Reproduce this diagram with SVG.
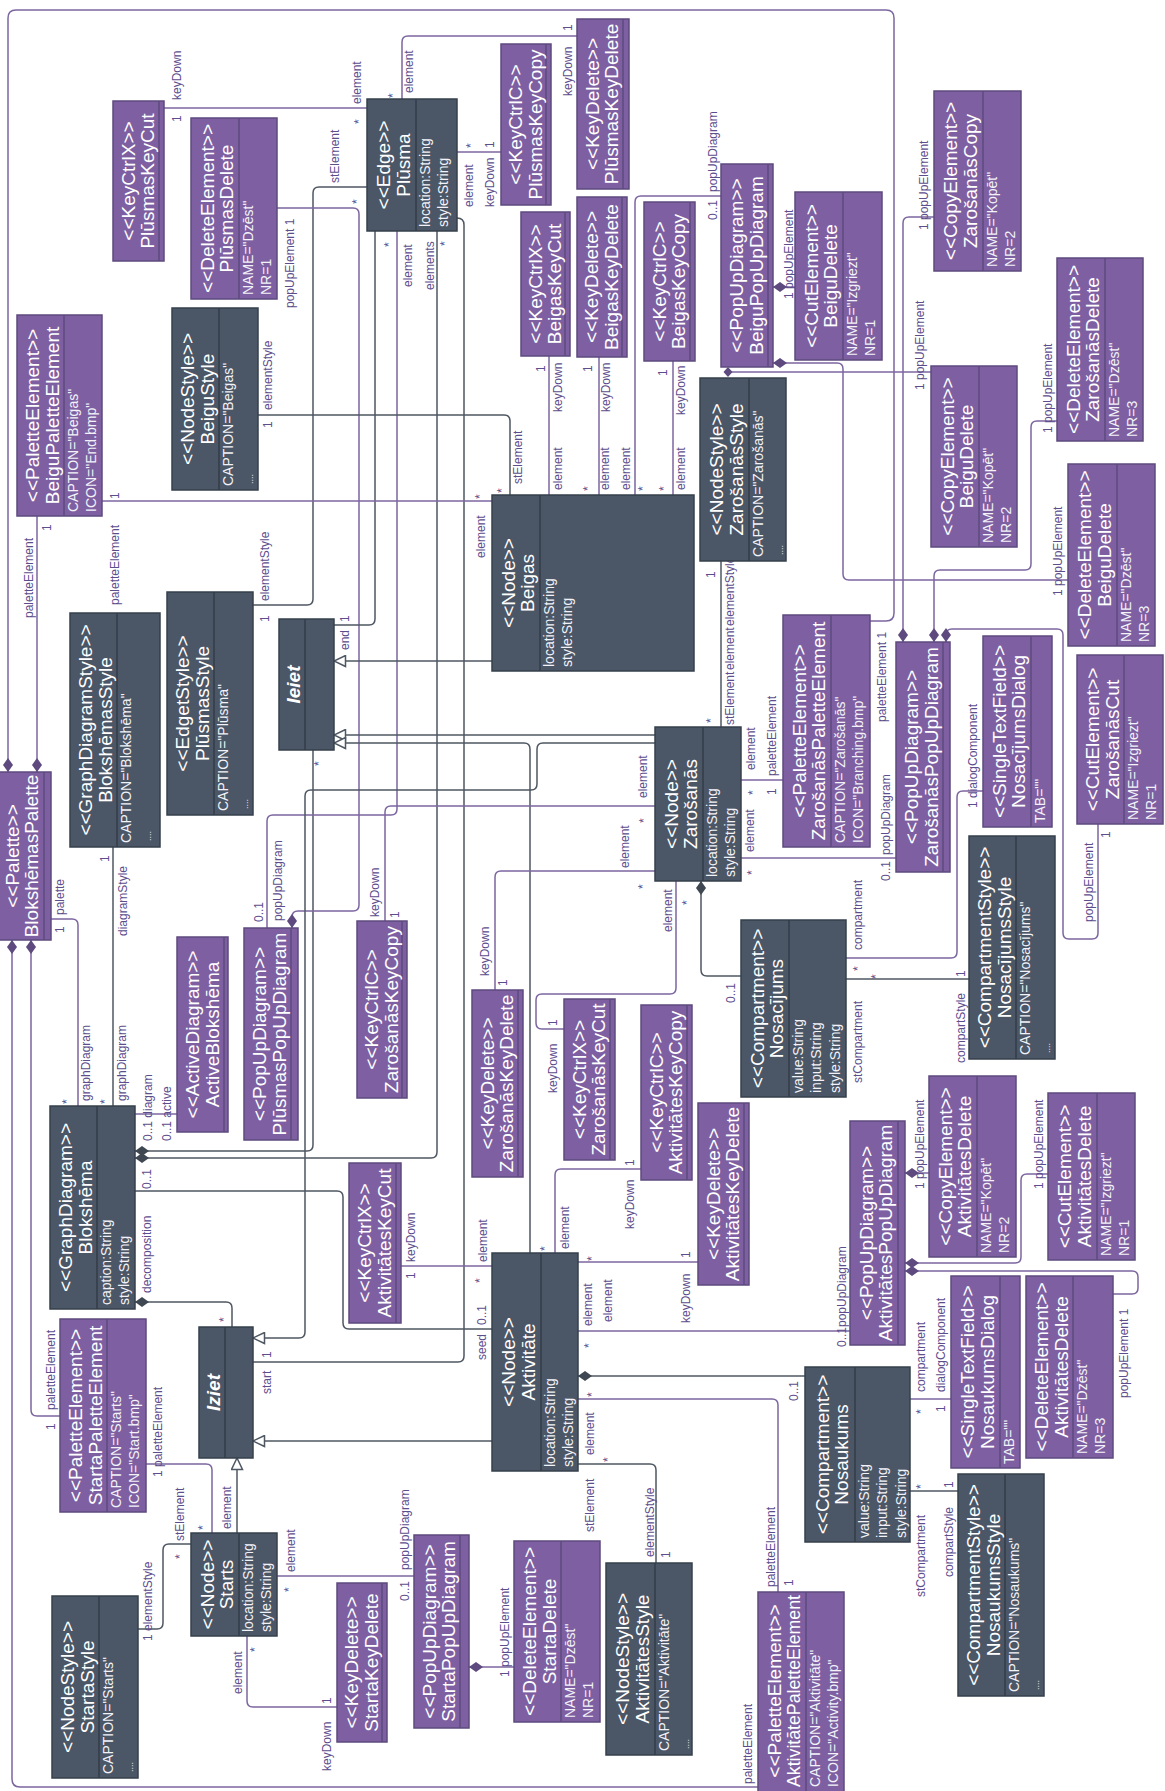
<svg xmlns="http://www.w3.org/2000/svg" width="1165" height="1791" viewBox="0 0 1165 1791">
<style>
text{font-family:"Liberation Sans",Arial,sans-serif}
.np>rect{fill:#7e60a2;stroke:#5e4a7e;stroke-width:1.5}
.nd>rect{fill:#4b5666;stroke:#36404c;stroke-width:1.5}
.np>path{fill:none;stroke:#5e4a7e;stroke-width:1.5}
.nd>path{fill:none;stroke:#333d49;stroke-width:1.5}
.t{font-size:19px;fill:#fff;text-anchor:middle}
.it{font-style:italic;font-weight:bold}
.a{font-size:14px;fill:#f2f2f8}
.dots{font-size:9px;fill:#f2f2f8}
.lb{font-size:12px;fill:#5c4d8d}
.ld{fill:none;stroke:#4e5762;stroke-width:1.5}
.lp{fill:none;stroke:#7c66a0;stroke-width:1.5}
</style>
<defs>
<marker id="dd" viewBox="0 0 14 10" refX="0" refY="5" markerWidth="14" markerHeight="10" orient="auto" markerUnits="userSpaceOnUse"><path d="M0 5L7 0L14 5L7 10Z" fill="#3f4852"/></marker>
<marker id="dp" viewBox="0 0 14 10" refX="0" refY="5" markerWidth="14" markerHeight="10" orient="auto" markerUnits="userSpaceOnUse"><path d="M0 5L7 0L14 5L7 10Z" fill="#5e4a7e"/></marker>
<marker id="tri" viewBox="0 0 13 13" refX="12.5" refY="6.5" markerWidth="13" markerHeight="13" orient="auto" markerUnits="userSpaceOnUse"><path d="M1 1L12.5 6.5L1 12Z" fill="#fff" stroke="#4e5762" stroke-width="1.5"/></marker>
</defs>
<rect width="1165" height="1791" fill="#fff"/>

<g id="connectors">
<path class="lp" marker-start="url(#dp)" d="M8 772V18Q8 10 16 10H886Q894 10 894 18V613Q894 621 886 621H870"/>
<path class="lp" marker-start="url(#dp)" d="M37 772V516"/>
<path class="lp" marker-start="url(#dp)" d="M31 940V1410Q31 1416 37 1416H60"/>
<path class="lp" marker-start="url(#dp)" d="M12 940V1779Q12 1787 20 1787H758"/>
<path class="lp" d="M51 919H72Q78 919 78 925V1106"/>
<path class="ld" d="M113 847V1106"/>
<path class="lp" d="M135 1114H177"/>
<path class="ld" marker-start="url(#dd)" d="M135 1151H307Q313 1151 313 1145V750"/>
<path class="ld" marker-start="url(#dd)" d="M135 1158H431Q437 1158 437 1152V231"/>
<path class="ld" d="M135 1191H337Q343 1191 343 1197V1323Q343 1329 349 1329H492"/>
<path class="ld" marker-start="url(#dd)" d="M135 1302H226Q232 1302 232 1308V1327"/>
<path class="lp" d="M164 108H367"/>
<path class="lp" d="M577 36H408Q402 36 402 42V99"/>
<path class="lp" d="M457 152H501"/>
<path class="ld" d="M367 187H319Q313 187 313 193V599Q313 605 307 605H253"/>
<path class="lp" d="M397 231V809Q397 815 391 815H273Q267 815 267 821V928"/>
<path class="lp" marker-start="url(#dp)" d="M292 928V917Q292 911 298 911H353Q359 911 359 905V214Q359 208 353 208H277"/>
<path class="ld" d="M375 231V619Q375 625 369 625H334"/>
<path class="ld" d="M457 218Q464 218 464 225V1356Q464 1362 458 1362H253"/>
<path class="lp" d="M102 501H492"/>
<path class="ld" d="M258 415H504Q510 415 510 421V495"/>
<path class="lp" d="M549 356V495"/>
<path class="lp" d="M599 357V495"/>
<path class="lp" d="M721 196H641Q635 196 635 202V495"/>
<path class="lp" d="M673 361V495"/>
<path class="ld" marker-end="url(#tri)" d="M492 661H334"/>
<path class="lp" marker-start="url(#dp)" d="M773 287H795"/>
<path class="lp" marker-start="url(#dp)" d="M773 363H837Q843 363 843 369V574Q843 580 849 580H1068"/>
<path class="lp" d="M728 372H931"/>
<path d="M728 367L732.5 372L728 377L723.5 372Z" fill="#5e4a7e"/>
<path class="lp" marker-start="url(#dp)" d="M903 642V223Q903 217 909 217H934"/>
<path class="lp" marker-start="url(#dp)" d="M934 642V576Q934 570 940 570H1025Q1031 570 1031 564V427Q1031 421 1037 421H1057"/>
<path class="lp" marker-start="url(#dp)" d="M946 642V635Q946 629 952 629H1057Q1063 629 1063 635V933Q1063 939 1069 939H1092Q1098 939 1098 933V824"/>
<path class="ld" d="M721 561V727"/>
<path class="ld" marker-end="url(#tri)" d="M655 735H334"/>
<path class="ld" marker-end="url(#tri)" d="M530 1253V749Q530 743 524 743H334"/>
<path class="ld" marker-end="url(#tri)" d="M655 743H543Q537 743 537 749V784Q537 790 531 790H311Q305 790 305 796V1332Q305 1338 299 1338H253"/>
<path class="lp" d="M741 780H783"/>
<path class="lp" d="M741 858H896"/>
<path class="lp" d="M385 921V812Q385 806 391 806H655"/>
<path class="lp" d="M495 990V877Q495 871 501 871H655"/>
<path class="lp" d="M564 1029H542Q536 1029 536 1023V1000Q536 994 542 994H670Q676 994 676 988V881"/>
<path class="ld" marker-start="url(#dd)" d="M701 881V970Q701 976 707 976H741"/>
<path class="lp" d="M983 791H963Q957 791 957 797V952Q957 958 951 958H846"/>
<path class="ld" d="M846 979H969"/>
<path class="lp" d="M401 1266H492"/>
<path class="lp" d="M641 1169H561Q555 1169 555 1175V1253"/>
<path class="lp" d="M578 1262H698"/>
<path class="lp" d="M578 1331H850"/>
<path class="ld" marker-start="url(#dd)" d="M578 1376H805"/>
<path class="lp" d="M578 1399H772Q778 1399 778 1405V1592"/>
<path class="ld" d="M578 1464H650Q656 1464 656 1470V1563"/>
<path class="ld" marker-end="url(#tri)" d="M492 1441H253"/>
<path class="lp" marker-start="url(#dp)" d="M905 1173H929"/>
<path class="lp" marker-start="url(#dp)" d="M905 1263H1015Q1021 1263 1021 1257V1180Q1021 1174 1027 1174H1048"/>
<path class="lp" marker-start="url(#dp)" d="M905 1271H1132Q1138 1271 1138 1277V1288Q1138 1294 1132 1294H1113"/>
<path class="lp" d="M951 1399H910"/>
<path class="ld" d="M910 1491H958"/>
<path class="ld" marker-end="url(#tri)" d="M237 1533V1458"/>
<path class="lp" d="M146 1464H206Q212 1464 212 1470V1533"/>
<path class="ld" d="M138 1629H157Q163 1629 163 1623V1550Q163 1544 169 1544H191"/>
<path class="lp" d="M277 1576H414"/>
<path class="lp" d="M247 1636V1701Q247 1707 253 1707H337"/>
<path class="lp" marker-start="url(#dp)" d="M469 1667H514"/>
</g>

<g id="connector-labels">
<text class="lb" transform="translate(181 100) rotate(-90)">keyDown</text>
<text class="lb" transform="translate(181 122) rotate(-90)">1</text>
<text class="lb" transform="translate(361 104) rotate(-90)">element</text>
<text class="lb" transform="translate(363 124) rotate(-90)">*</text>
<text class="lb" transform="translate(572 96) rotate(-90)">keyDown</text>
<text class="lb" transform="translate(572 31) rotate(-90)">1</text>
<text class="lb" transform="translate(413 93) rotate(-90)">element</text>
<text class="lb" transform="translate(397 98) rotate(-90)">*</text>
<text class="lb" transform="translate(475 148) rotate(-90)">*</text>
<text class="lb" transform="translate(473 207) rotate(-90)">element</text>
<text class="lb" transform="translate(494 148) rotate(-90)">1</text>
<text class="lb" transform="translate(494 207) rotate(-90)">keyDown</text>
<text class="lb" transform="translate(339 183) rotate(-90)">stElement</text>
<text class="lb" transform="translate(361 204) rotate(-90)">*</text>
<text class="lb" transform="translate(269 601) rotate(-90)">elementStyle</text>
<text class="lb" transform="translate(269 622) rotate(-90)">1</text>
<text class="lb" transform="translate(412 287) rotate(-90)">element</text>
<text class="lb" transform="translate(282 921) rotate(-90)">popUpDiagram</text>
<text class="lb" transform="translate(263 922) rotate(-90)">0..1</text>
<text class="lb" transform="translate(294 308) rotate(-90)">popUpElement 1</text>
<text class="lb" transform="translate(393 247) rotate(-90)">*</text>
<text class="lb" transform="translate(349 622) rotate(-90)">1</text>
<text class="lb" transform="translate(349 650) rotate(-90)">end</text>
<text class="lb" transform="translate(271 1358) rotate(-90)">1</text>
<text class="lb" transform="translate(271 1394) rotate(-90)">start</text>
<text class="lb" transform="translate(119 605) rotate(-90)">paletteElement</text>
<text class="lb" transform="translate(119 499) rotate(-90)">1</text>
<text class="lb" transform="translate(485 558) rotate(-90)">element</text>
<text class="lb" transform="translate(484 499) rotate(-90)">*</text>
<text class="lb" transform="translate(272 410) rotate(-90)">elementStyle</text>
<text class="lb" transform="translate(272 428) rotate(-90)">1</text>
<text class="lb" transform="translate(506 493) rotate(-90)">*</text>
<text class="lb" transform="translate(522 484) rotate(-90)">stElement</text>
<text class="lb" transform="translate(545 372) rotate(-90)">1</text>
<text class="lb" transform="translate(562 412) rotate(-90)">keyDown</text>
<text class="lb" transform="translate(562 490) rotate(-90)">element</text>
<text class="lb" transform="translate(592 372) rotate(-90)">1</text>
<text class="lb" transform="translate(610 412) rotate(-90)">keyDown</text>
<text class="lb" transform="translate(592 491) rotate(-90)">*</text>
<text class="lb" transform="translate(609 490) rotate(-90)">element</text>
<text class="lb" transform="translate(717 192) rotate(-90)">popUpDiagram</text>
<text class="lb" transform="translate(717 220) rotate(-90)">0..1</text>
<text class="lb" transform="translate(630 490) rotate(-90)">element</text>
<text class="lb" transform="translate(647 491) rotate(-90)">*</text>
<text class="lb" transform="translate(667 376) rotate(-90)">1</text>
<text class="lb" transform="translate(685 415) rotate(-90)">keyDown</text>
<text class="lb" transform="translate(668 491) rotate(-90)">*</text>
<text class="lb" transform="translate(685 490) rotate(-90)">element</text>
<text class="lb" transform="translate(793 299) rotate(-90)">1 popUpElement</text>
<text class="lb" transform="translate(1062 596) rotate(-90)">1 popUpElement</text>
<text class="lb" transform="translate(924 390) rotate(-90)">1 popUpElement</text>
<text class="lb" transform="translate(928 230) rotate(-90)">1 popUpElement</text>
<text class="lb" transform="translate(1052 433) rotate(-90)">1 popUpElement</text>
<text class="lb" transform="translate(1093 922) rotate(-90)">popUpElement</text>
<text class="lb" transform="translate(1110 838) rotate(-90)">1</text>
<text class="lb" transform="translate(715 578) rotate(-90)">1</text>
<text class="lb" transform="translate(734 725) rotate(-90)">stElement</text>
<text class="lb" transform="translate(734 670) rotate(-90)">element</text>
<text class="lb" transform="translate(734 626) rotate(-90)">elementStyle</text>
<text class="lb" transform="translate(715 723) rotate(-90)">*</text>
<text class="lb" transform="translate(755 770) rotate(-90)">element</text>
<text class="lb" transform="translate(757 795) rotate(-90)">*</text>
<text class="lb" transform="translate(776 776) rotate(-90)">paletteElement</text>
<text class="lb" transform="translate(776 795) rotate(-90)">1</text>
<text class="lb" transform="translate(886 722) rotate(-90)">paletteElement 1</text>
<text class="lb" transform="translate(754 852) rotate(-90)">element</text>
<text class="lb" transform="translate(756 875) rotate(-90)">*</text>
<text class="lb" transform="translate(890 855) rotate(-90)">popUpDiagram</text>
<text class="lb" transform="translate(890 881) rotate(-90)">0..1</text>
<text class="lb" transform="translate(379 917) rotate(-90)">keyDown</text>
<text class="lb" transform="translate(399 918) rotate(-90)">1</text>
<text class="lb" transform="translate(647 798) rotate(-90)">element</text>
<text class="lb" transform="translate(648 823) rotate(-90)">*</text>
<text class="lb" transform="translate(489 976) rotate(-90)">keyDown</text>
<text class="lb" transform="translate(507 986) rotate(-90)">1</text>
<text class="lb" transform="translate(629 868) rotate(-90)">element</text>
<text class="lb" transform="translate(647 889) rotate(-90)">*</text>
<text class="lb" transform="translate(557 1093) rotate(-90)">keyDown</text>
<text class="lb" transform="translate(557 1026) rotate(-90)">1</text>
<text class="lb" transform="translate(672 932) rotate(-90)">element</text>
<text class="lb" transform="translate(691 905) rotate(-90)">*</text>
<text class="lb" transform="translate(735 1003) rotate(-90)">0..1</text>
<text class="lb" transform="translate(977 808) rotate(-90)">1 dialogComponent</text>
<text class="lb" transform="translate(862 950) rotate(-90)">compartment</text>
<text class="lb" transform="translate(862 971) rotate(-90)">*</text>
<text class="lb" transform="translate(880 979) rotate(-90)">*</text>
<text class="lb" transform="translate(862 1083) rotate(-90)">stCompartment</text>
<text class="lb" transform="translate(965 977) rotate(-90)">1</text>
<text class="lb" transform="translate(965 1063) rotate(-90)">compartStyle</text>
<text class="lb" transform="translate(415 1279) rotate(-90)">1</text>
<text class="lb" transform="translate(415 1262) rotate(-90)">keyDown</text>
<text class="lb" transform="translate(487 1262) rotate(-90)">element</text>
<text class="lb" transform="translate(484 1283) rotate(-90)">*</text>
<text class="lb" transform="translate(634 1166) rotate(-90)">1</text>
<text class="lb" transform="translate(634 1229) rotate(-90)">keyDown</text>
<text class="lb" transform="translate(569 1249) rotate(-90)">element</text>
<text class="lb" transform="translate(549 1251) rotate(-90)">*</text>
<text class="lb" transform="translate(596 1261) rotate(-90)">*</text>
<text class="lb" transform="translate(690 1258) rotate(-90)">1</text>
<text class="lb" transform="translate(690 1323) rotate(-90)">keyDown</text>
<text class="lb" transform="translate(592 1326) rotate(-90)">element</text>
<text class="lb" transform="translate(612 1322) rotate(-90)">element</text>
<text class="lb" transform="translate(593 1348) rotate(-90)">*</text>
<text class="lb" transform="translate(846 1347) rotate(-90)">0..1</text>
<text class="lb" transform="translate(846 1327) rotate(-90)">popUpDiagram</text>
<text class="lb" transform="translate(798 1401) rotate(-90)">0..1</text>
<text class="lb" transform="translate(596 1397) rotate(-90)">*</text>
<text class="lb" transform="translate(594 1455) rotate(-90)">element</text>
<text class="lb" transform="translate(793 1586) rotate(-90)">1</text>
<text class="lb" transform="translate(775 1587) rotate(-90)">paletteElement</text>
<text class="lb" transform="translate(612 1462) rotate(-90)">*</text>
<text class="lb" transform="translate(594 1532) rotate(-90)">stElement</text>
<text class="lb" transform="translate(654 1557) rotate(-90)">elementStyle</text>
<text class="lb" transform="translate(670 1558) rotate(-90)">1</text>
<text class="lb" transform="translate(924 1189) rotate(-90)">1 popUpElement</text>
<text class="lb" transform="translate(1043 1189) rotate(-90)">1 popUpElement</text>
<text class="lb" transform="translate(1128 1398) rotate(-90)">popUpElement 1</text>
<text class="lb" transform="translate(925 1392) rotate(-90)">compartment</text>
<text class="lb" transform="translate(925 1414) rotate(-90)">*</text>
<text class="lb" transform="translate(945 1392) rotate(-90)">dialogComponent</text>
<text class="lb" transform="translate(945 1412) rotate(-90)">1</text>
<text class="lb" transform="translate(925 1489) rotate(-90)">*</text>
<text class="lb" transform="translate(925 1597) rotate(-90)">stCompartment</text>
<text class="lb" transform="translate(953 1488) rotate(-90)">1</text>
<text class="lb" transform="translate(953 1577) rotate(-90)">compartStyle</text>
<text class="lb" transform="translate(162 1477) rotate(-90)">1 paletteElement</text>
<text class="lb" transform="translate(231 1529) rotate(-90)">element</text>
<text class="lb" transform="translate(207 1530) rotate(-90)">*</text>
<text class="lb" transform="translate(152 1641) rotate(-90)">1 elementStyle</text>
<text class="lb" transform="translate(184 1541) rotate(-90)">stElement</text>
<text class="lb" transform="translate(184 1559) rotate(-90)">*</text>
<text class="lb" transform="translate(295 1572) rotate(-90)">element</text>
<text class="lb" transform="translate(293 1592) rotate(-90)">*</text>
<text class="lb" transform="translate(409 1570) rotate(-90)">popUpDiagram</text>
<text class="lb" transform="translate(409 1601) rotate(-90)">0..1</text>
<text class="lb" transform="translate(242 1694) rotate(-90)">element</text>
<text class="lb" transform="translate(259 1652) rotate(-90)">*</text>
<text class="lb" transform="translate(331 1704) rotate(-90)">1</text>
<text class="lb" transform="translate(331 1771) rotate(-90)">keyDown</text>
<text class="lb" transform="translate(509 1677) rotate(-90)">1 popUpElement</text>
<text class="lb" transform="translate(752 1784) rotate(-90)">paletteElement</text>
<text class="lb" transform="translate(55 1410) rotate(-90)">paletteElement</text>
<text class="lb" transform="translate(55 1430) rotate(-90)">1</text>
<text class="lb" transform="translate(33 618) rotate(-90)">paletteElement</text>
<text class="lb" transform="translate(51 531) rotate(-90)">1</text>
<text class="lb" transform="translate(64 933) rotate(-90)">1</text>
<text class="lb" transform="translate(64 915) rotate(-90)">palette</text>
<text class="lb" transform="translate(90 1101) rotate(-90)">graphDiagram</text>
<text class="lb" transform="translate(71 1104) rotate(-90)">*</text>
<text class="lb" transform="translate(109 862) rotate(-90)">1</text>
<text class="lb" transform="translate(127 936) rotate(-90)">diagramStyle</text>
<text class="lb" transform="translate(126 1101) rotate(-90)">graphDiagram</text>
<text class="lb" transform="translate(109 1104) rotate(-90)">*</text>
<text class="lb" transform="translate(152 1141) rotate(-90)">0..1 diagram</text>
<text class="lb" transform="translate(171 1141) rotate(-90)">0..1 active</text>
<text class="lb" transform="translate(323 766) rotate(-90)">*</text>
<text class="lb" transform="translate(434 290) rotate(-90)">elements</text>
<text class="lb" transform="translate(449 246) rotate(-90)">*</text>
<text class="lb" transform="translate(151 1189) rotate(-90)">0..1</text>
<text class="lb" transform="translate(151 1293) rotate(-90)">decomposition</text>
<text class="lb" transform="translate(486 1325) rotate(-90)">0..1</text>
<text class="lb" transform="translate(486 1360) rotate(-90)">seed</text>
<text class="lb" transform="translate(228 1322) rotate(-90)">*</text>
</g>

<g id="plusmas-key-cut" class="np"><rect x="113" y="101" width="51" height="160"/><path d="M159 101V261"/>
<text class="t" transform="translate(134.5 181) rotate(-90)">&lt;&lt;KeyCtrlX&gt;&gt;</text><text class="t" transform="translate(154 181) rotate(-90)">PlūsmasKeyCut</text></g>

<g id="plusmas-delete" class="np"><rect x="191" y="118" width="86" height="181"/><path d="M239 118V299"/>
<text class="t" transform="translate(213.5 208.5) rotate(-90)">&lt;&lt;DeleteElement&gt;&gt;</text><text class="t" transform="translate(233 208.5) rotate(-90)">PlūsmasDelete</text>
<text class="a" transform="translate(252.5 295) rotate(-90)">NAME="Dzēst"</text><text class="a" transform="translate(271 295) rotate(-90)">NR=1</text></g>

<g id="beigu-style" class="nd"><rect x="172" y="308" width="86" height="182"/><path d="M219 308V490"/>
<text class="t" transform="translate(194 399) rotate(-90)">&lt;&lt;NodeStyle&gt;&gt;</text><text class="t" transform="translate(213.5 399) rotate(-90)">BeiguStyle</text>
<text class="a" transform="translate(232.5 486) rotate(-90)">CAPTION="Beigas"</text><text class="dots" transform="translate(253 484) rotate(-90)">....</text></g>

<g id="beigu-palette-element" class="np"><rect x="17" y="315" width="85" height="201"/><path d="M64 315V516"/>
<text class="t" transform="translate(39 415.5) rotate(-90)">&lt;&lt;PaletteElement&gt;&gt;</text><text class="t" transform="translate(58.5 415.5) rotate(-90)">BeiguPaletteElement</text>
<text class="a" transform="translate(77.5 512) rotate(-90)">CAPTION="Beigas"</text><text class="a" transform="translate(96 512) rotate(-90)">ICON="End.bmp"</text></g>

<g id="plusma" class="nd"><rect x="367" y="99" width="90" height="132"/><path d="M416 99V231"/>
<text class="t" transform="translate(390 165) rotate(-90)">&lt;&lt;Edge&gt;&gt;</text><text class="t" transform="translate(409.5 165) rotate(-90)">Plūsma</text>
<text class="a" transform="translate(429.5 227) rotate(-90)">location:String</text><text class="a" transform="translate(448 227) rotate(-90)">style:String</text></g>

<g id="plusmas-key-copy" class="np"><rect x="501" y="44" width="50" height="161"/><path d="M546 44V205"/>
<text class="t" transform="translate(522 124.5) rotate(-90)">&lt;&lt;KeyCtrlC&gt;&gt;</text><text class="t" transform="translate(541.5 124.5) rotate(-90)">PlūsmasKeyCopy</text></g>

<g id="plusmas-key-delete" class="np"><rect x="577" y="19" width="52" height="170"/><path d="M623 19V189"/>
<text class="t" transform="translate(598.5 104) rotate(-90)">&lt;&lt;KeyDelete&gt;&gt;</text><text class="t" transform="translate(618 104) rotate(-90)">PlūsmasKeyDelete</text></g>

<g id="beigas-key-cut" class="np"><rect x="521" y="212" width="49" height="144"/><path d="M565 212V356"/>
<text class="t" transform="translate(541.5 284) rotate(-90)">&lt;&lt;KeyCtrlX&gt;&gt;</text><text class="t" transform="translate(561 284) rotate(-90)">BeigasKeyCut</text></g>

<g id="beigas-key-delete" class="np"><rect x="577" y="197" width="50" height="160"/><path d="M622 197V357"/>
<text class="t" transform="translate(598 277) rotate(-90)">&lt;&lt;KeyDelete&gt;&gt;</text><text class="t" transform="translate(617.5 277) rotate(-90)">BeigasKeyDelete</text></g>

<g id="beigas-key-copy" class="np"><rect x="644" y="202" width="51" height="159"/><path d="M690 202V361"/>
<text class="t" transform="translate(665.5 281.5) rotate(-90)">&lt;&lt;KeyCtrlC&gt;&gt;</text><text class="t" transform="translate(685 281.5) rotate(-90)">BeigasKeyCopy</text></g>

<g id="beigu-popup-diagram" class="np"><rect x="721" y="164" width="52" height="203"/><path d="M768 164V367"/>
<text class="t" transform="translate(743 265.5) rotate(-90)">&lt;&lt;PopUpDiagram&gt;&gt;</text><text class="t" transform="translate(762.5 265.5) rotate(-90)">BeiguPopUpDiagram</text></g>

<g id="zarosanas-style" class="nd"><rect x="700" y="378" width="86" height="183"/><path d="M749 378V561"/>
<text class="t" transform="translate(723 469.5) rotate(-90)">&lt;&lt;NodeStyle&gt;&gt;</text><text class="t" transform="translate(742.5 469.5) rotate(-90)">ZarošanāsStyle</text>
<text class="a" transform="translate(762.5 557) rotate(-90)">CAPTION="Zarošanās"</text><text class="dots" transform="translate(783 555) rotate(-90)">....</text></g>

<g id="beigu-delete-cut" class="np"><rect x="795" y="192" width="87" height="168"/><path d="M843 192V360"/>
<text class="t" transform="translate(817.5 276) rotate(-90)">&lt;&lt;CutElement&gt;&gt;</text><text class="t" transform="translate(837 276) rotate(-90)">BeiguDelete</text>
<text class="a" transform="translate(856.5 356) rotate(-90)">NAME="Izgriezt"</text><text class="a" transform="translate(875 356) rotate(-90)">NR=1</text></g>

<g id="zarosanas-copy" class="np"><rect x="934" y="91" width="87" height="180"/><path d="M983 91V271"/>
<text class="t" transform="translate(957 181) rotate(-90)">&lt;&lt;CopyElement&gt;&gt;</text><text class="t" transform="translate(976.5 181) rotate(-90)">ZarošanāsCopy</text>
<text class="a" transform="translate(996.5 267) rotate(-90)">NAME="Kopēt"</text><text class="a" transform="translate(1015 267) rotate(-90)">NR=2</text></g>

<g id="zarosanas-delete" class="np"><rect x="1057" y="258" width="86" height="183"/><path d="M1105 258V441"/>
<text class="t" transform="translate(1079.5 349.5) rotate(-90)">&lt;&lt;DeleteElement&gt;&gt;</text><text class="t" transform="translate(1099 349.5) rotate(-90)">ZarošanāsDelete</text>
<text class="a" transform="translate(1118.5 437) rotate(-90)">NAME="Dzēst"</text><text class="a" transform="translate(1137 437) rotate(-90)">NR=3</text></g>

<g id="beigu-delete-copy" class="np"><rect x="931" y="366" width="86" height="181"/><path d="M979 366V547"/>
<text class="t" transform="translate(953.5 456.5) rotate(-90)">&lt;&lt;CopyElement&gt;&gt;</text><text class="t" transform="translate(973 456.5) rotate(-90)">BeiguDelete</text>
<text class="a" transform="translate(992.5 543) rotate(-90)">NAME="Kopēt"</text><text class="a" transform="translate(1011 543) rotate(-90)">NR=2</text></g>

<g id="beigu-delete-del" class="np"><rect x="1068" y="464" width="87" height="182"/><path d="M1117 464V646"/>
<text class="t" transform="translate(1091 555) rotate(-90)">&lt;&lt;DeleteElement&gt;&gt;</text><text class="t" transform="translate(1110.5 555) rotate(-90)">BeiguDelete</text>
<text class="a" transform="translate(1130.5 642) rotate(-90)">NAME="Dzēst"</text><text class="a" transform="translate(1149 642) rotate(-90)">NR=3</text></g>

<g id="beigas" class="nd"><rect x="492" y="495" width="202" height="176"/><path d="M540 495V671"/>
<text class="t" transform="translate(514.5 583) rotate(-90)">&lt;&lt;Node&gt;&gt;</text><text class="t" transform="translate(534 583) rotate(-90)">Beigas</text>
<text class="a" transform="translate(553.5 667) rotate(-90)">location:String</text><text class="a" transform="translate(572 667) rotate(-90)">style:String</text></g>

<g id="zarosanas-palette-element" class="np"><rect x="783" y="615" width="87" height="232"/><path d="M831 615V847"/>
<text class="t" transform="translate(805.5 731) rotate(-90)">&lt;&lt;PaletteElement&gt;&gt;</text><text class="t" transform="translate(825 731) rotate(-90)">ZarošanāsPaletteElement</text>
<text class="a" transform="translate(844.5 843) rotate(-90)">CAPTION="Zarošanās"</text><text class="a" transform="translate(863 843) rotate(-90)">ICON="Branching.bmp"</text></g>

<g id="zarosanas-popup-diagram" class="np"><rect x="896" y="642" width="54" height="230"/><path d="M943 642V872"/>
<text class="t" transform="translate(918 757) rotate(-90)">&lt;&lt;PopUpDiagram&gt;&gt;</text><text class="t" transform="translate(937.5 757) rotate(-90)">ZarošanāsPopUpDiagram</text></g>

<g id="nosacijums-dialog" class="np"><rect x="983" y="636" width="69" height="191"/><path d="M1031 636V827"/>
<text class="t" transform="translate(1005.5 731.5) rotate(-90)">&lt;&lt;SingleTextField&gt;&gt;</text><text class="t" transform="translate(1025 731.5) rotate(-90)">NosacījumsDialog</text>
<text class="a" transform="translate(1044.5 823) rotate(-90)">TAB=""</text></g>

<g id="zarosanas-cut" class="np"><rect x="1077" y="655" width="86" height="169"/><path d="M1124 655V824"/>
<text class="t" transform="translate(1099 739.5) rotate(-90)">&lt;&lt;CutElement&gt;&gt;</text><text class="t" transform="translate(1118.5 739.5) rotate(-90)">ZarošanāsCut</text>
<text class="a" transform="translate(1137.5 820) rotate(-90)">NAME="Izgriezt"</text><text class="a" transform="translate(1156 820) rotate(-90)">NR=1</text></g>

<g id="zarosanas" class="nd"><rect x="655" y="727" width="86" height="154"/><path d="M703 727V881"/>
<text class="t" transform="translate(677.5 804) rotate(-90)">&lt;&lt;Node&gt;&gt;</text><text class="t" transform="translate(697 804) rotate(-90)">Zarošanās</text>
<text class="a" transform="translate(716.5 877) rotate(-90)">location:String</text><text class="a" transform="translate(735 877) rotate(-90)">style:String</text></g>

<g id="blokshemas-style" class="nd"><rect x="70" y="613" width="90" height="234"/><path d="M117 613V847"/>
<text class="t" transform="translate(92 730) rotate(-90)">&lt;&lt;GraphDiagramStyle&gt;&gt;</text><text class="t" transform="translate(111.5 730) rotate(-90)">BlokshēmasStyle</text>
<text class="a" transform="translate(130.5 843) rotate(-90)">CAPTION="Blokshēma"</text><text class="dots" transform="translate(151 841) rotate(-90)">....</text></g>

<g id="plusmas-style" class="nd"><rect x="167" y="592" width="86" height="223"/><path d="M214 592V815"/>
<text class="t" transform="translate(189 703.5) rotate(-90)">&lt;&lt;EdgetStyle&gt;&gt;</text><text class="t" transform="translate(208.5 703.5) rotate(-90)">PlūsmasStyle</text>
<text class="a" transform="translate(227.5 811) rotate(-90)">CAPTION="Plūsma"</text><text class="dots" transform="translate(248 809) rotate(-90)">....</text></g>

<g id="ieiet" class="nd"><rect x="279" y="619" width="55" height="131"/><path d="M305 619V750"/>
<text class="t it" transform="translate(299.5 684.5) rotate(-90)">Ieiet</text></g>

<g id="blokshemas-palette" class="np"><rect x="-4" y="772" width="55" height="168"/><path d="M44 772V940"/>
<text class="t" transform="translate(18.5 856) rotate(-90)">&lt;&lt;Palette&gt;&gt;</text><text class="t" transform="translate(38 856) rotate(-90)">BlokshēmasPalette</text></g>

<g id="nosacijums-style" class="nd"><rect x="969" y="836" width="86" height="223"/><path d="M1016 836V1059"/>
<text class="t" transform="translate(991 947.5) rotate(-90)">&lt;&lt;CompartmentStyle&gt;&gt;</text><text class="t" transform="translate(1010.5 947.5) rotate(-90)">NosacījumsStyle</text>
<text class="a" transform="translate(1029.5 1055) rotate(-90)">CAPTION="Nosacījums"</text><text class="dots" transform="translate(1050 1053) rotate(-90)">....</text></g>

<g id="nosacijums" class="nd"><rect x="741" y="920" width="105" height="177"/><path d="M789 920V1097"/>
<text class="t" transform="translate(763.5 1008.5) rotate(-90)">&lt;&lt;Compartment&gt;&gt;</text><text class="t" transform="translate(783 1008.5) rotate(-90)">Nosacījums</text>
<text class="a" transform="translate(802.5 1093) rotate(-90)">value:String</text><text class="a" transform="translate(821 1093) rotate(-90)">input:String</text><text class="a" transform="translate(839.5 1093) rotate(-90)">style:String</text></g>

<g id="active-blokshema" class="np"><rect x="177" y="937" width="51" height="195"/><path d="M224 937V1132"/>
<text class="t" transform="translate(199 1034.5) rotate(-90)">&lt;&lt;ActiveDiagram&gt;&gt;</text><text class="t" transform="translate(218.5 1034.5) rotate(-90)">ActiveBlokshēma</text></g>

<g id="plusmas-popup-diagram" class="np"><rect x="244" y="928" width="54" height="212"/><path d="M291 928V1140"/>
<text class="t" transform="translate(266 1034) rotate(-90)">&lt;&lt;PopUpDiagram&gt;&gt;</text><text class="t" transform="translate(285.5 1034) rotate(-90)">PlūsmasPopUpDiagram</text></g>

<g id="zarosanas-key-copy" class="np"><rect x="357" y="921" width="50" height="177"/><path d="M402 921V1098"/>
<text class="t" transform="translate(378 1009.5) rotate(-90)">&lt;&lt;KeyCtrlC&gt;&gt;</text><text class="t" transform="translate(397.5 1009.5) rotate(-90)">ZarošanāsKeyCopy</text></g>

<g id="zarosanas-key-delete" class="np"><rect x="472" y="990" width="51" height="187"/><path d="M518 990V1177"/>
<text class="t" transform="translate(493.5 1083.5) rotate(-90)">&lt;&lt;KeyDelete&gt;&gt;</text><text class="t" transform="translate(513 1083.5) rotate(-90)">ZarošanāsKeyDelete</text></g>

<g id="zarosanas-key-cut" class="np"><rect x="564" y="999" width="51" height="161"/><path d="M610 999V1160"/>
<text class="t" transform="translate(585.5 1079.5) rotate(-90)">&lt;&lt;KeyCtrlX&gt;&gt;</text><text class="t" transform="translate(605 1079.5) rotate(-90)">ZarošanāsKeyCut</text></g>

<g id="aktivitates-key-copy" class="np"><rect x="641" y="1005" width="51" height="175"/><path d="M687 1005V1180"/>
<text class="t" transform="translate(662.5 1092.5) rotate(-90)">&lt;&lt;KeyCtrlC&gt;&gt;</text><text class="t" transform="translate(682 1092.5) rotate(-90)">AktivitātesKeyCopy</text></g>

<g id="aktivitates-key-delete" class="np"><rect x="698" y="1103" width="51" height="182"/><path d="M744 1103V1285"/>
<text class="t" transform="translate(719.5 1194) rotate(-90)">&lt;&lt;KeyDelete&gt;&gt;</text><text class="t" transform="translate(739 1194) rotate(-90)">AktivitātesKeyDelete</text></g>

<g id="blokshema" class="nd"><rect x="50" y="1106" width="85" height="203"/><path d="M97 1106V1309"/>
<text class="t" transform="translate(72 1207.5) rotate(-90)">&lt;&lt;GraphDiagram&gt;&gt;</text><text class="t" transform="translate(91.5 1207.5) rotate(-90)">Blokshēma</text>
<text class="a" transform="translate(110.5 1305) rotate(-90)">caption:String</text><text class="a" transform="translate(129 1305) rotate(-90)">style:String</text></g>

<g id="aktivitates-key-cut" class="np"><rect x="349" y="1163" width="52" height="160"/><path d="M396 1163V1323"/>
<text class="t" transform="translate(371 1243) rotate(-90)">&lt;&lt;KeyCtrlX&gt;&gt;</text><text class="t" transform="translate(390.5 1243) rotate(-90)">AktivitātesKeyCut</text></g>

<g id="aktivitate" class="nd"><rect x="492" y="1253" width="86" height="218"/><path d="M541 1253V1471"/>
<text class="t" transform="translate(515 1362) rotate(-90)">&lt;&lt;Node&gt;&gt;</text><text class="t" transform="translate(534.5 1362) rotate(-90)">Aktivitāte</text>
<text class="a" transform="translate(554.5 1467) rotate(-90)">location:String</text><text class="a" transform="translate(573 1467) rotate(-90)">style:String</text></g>

<g id="aktivitates-popup-diagram" class="np"><rect x="850" y="1121" width="55" height="224"/><path d="M898 1121V1345"/>
<text class="t" transform="translate(872.5 1233) rotate(-90)">&lt;&lt;PopUpDiagram&gt;&gt;</text><text class="t" transform="translate(892 1233) rotate(-90)">AktivitātesPopUpDiagram</text></g>

<g id="aktivitates-delete-copy" class="np"><rect x="929" y="1076" width="87" height="181"/><path d="M977 1076V1257"/>
<text class="t" transform="translate(951.5 1166.5) rotate(-90)">&lt;&lt;CopyElement&gt;&gt;</text><text class="t" transform="translate(971 1166.5) rotate(-90)">AktivitātesDelete</text>
<text class="a" transform="translate(990.5 1253) rotate(-90)">NAME="Kopēt"</text><text class="a" transform="translate(1009 1253) rotate(-90)">NR=2</text></g>

<g id="aktivitates-delete-cut" class="np"><rect x="1048" y="1093" width="87" height="167"/><path d="M1097 1093V1260"/>
<text class="t" transform="translate(1071 1176.5) rotate(-90)">&lt;&lt;CutElement&gt;&gt;</text><text class="t" transform="translate(1090.5 1176.5) rotate(-90)">AktivitātesDelete</text>
<text class="a" transform="translate(1110.5 1256) rotate(-90)">NAME="Izgriezt"</text><text class="a" transform="translate(1129 1256) rotate(-90)">NR=1</text></g>

<g id="nosaukums-dialog" class="np"><rect x="951" y="1276" width="69" height="192"/><path d="M1000 1276V1468"/>
<text class="t" transform="translate(974 1372) rotate(-90)">&lt;&lt;SingleTextField&gt;&gt;</text><text class="t" transform="translate(993.5 1372) rotate(-90)">NosaukumsDialog</text>
<text class="a" transform="translate(1013.5 1464) rotate(-90)">TAB=""</text></g>

<g id="aktivitates-delete-del" class="np"><rect x="1026" y="1276" width="87" height="182"/><path d="M1073 1276V1458"/>
<text class="t" transform="translate(1048 1367) rotate(-90)">&lt;&lt;DeleteElement&gt;&gt;</text><text class="t" transform="translate(1067.5 1367) rotate(-90)">AktivitātesDelete</text>
<text class="a" transform="translate(1086.5 1454) rotate(-90)">NAME="Dzēst"</text><text class="a" transform="translate(1105 1454) rotate(-90)">NR=3</text></g>

<g id="nosaukums" class="nd"><rect x="805" y="1367" width="105" height="175"/><path d="M855 1367V1542"/>
<text class="t" transform="translate(828.5 1454.5) rotate(-90)">&lt;&lt;Compartment&gt;&gt;</text><text class="t" transform="translate(848 1454.5) rotate(-90)">Nosaukums</text>
<text class="a" transform="translate(868.5 1538) rotate(-90)">value:String</text><text class="a" transform="translate(887 1538) rotate(-90)">input:String</text><text class="a" transform="translate(905.5 1538) rotate(-90)">style:String</text></g>

<g id="nosaukums-style" class="nd"><rect x="958" y="1474" width="86" height="222"/><path d="M1005 1474V1696"/>
<text class="t" transform="translate(980 1585) rotate(-90)">&lt;&lt;CompartmentStyle&gt;&gt;</text><text class="t" transform="translate(999.5 1585) rotate(-90)">NosaukumsStyle</text>
<text class="a" transform="translate(1018.5 1692) rotate(-90)">CAPTION="Nosaukums"</text><text class="dots" transform="translate(1039 1690) rotate(-90)">....</text></g>

<g id="aktivitate-palette-element" class="np"><rect x="758" y="1592" width="86" height="220"/><path d="M806 1592V1812"/>
<text class="t" transform="translate(780.5 1691) rotate(-90)">&lt;&lt;PaletteElement&gt;&gt;</text><text class="t" transform="translate(800 1691) rotate(-90)" textLength="192" lengthAdjust="spacingAndGlyphs">AktivitātePaletteElement</text>
<text class="a" transform="translate(819.5 1787) rotate(-90)">CAPTION="Aktivitāte"</text><text class="a" transform="translate(838 1787) rotate(-90)">ICON="Activity.bmp"</text></g>

<g id="starta-palette-element" class="np"><rect x="60" y="1319" width="86" height="193"/><path d="M107 1319V1512"/>
<text class="t" transform="translate(82 1415.5) rotate(-90)">&lt;&lt;PaletteElement&gt;&gt;</text><text class="t" transform="translate(101.5 1415.5) rotate(-90)">StartaPaletteElement</text>
<text class="a" transform="translate(120.5 1508) rotate(-90)">CAPTION="Starts"</text><text class="a" transform="translate(139 1508) rotate(-90)">ICON="Start.bmp"</text></g>

<g id="iziet" class="nd"><rect x="199" y="1327" width="54" height="131"/><path d="M225 1327V1458"/>
<text class="t it" transform="translate(219.5 1392.5) rotate(-90)">Iziet</text></g>

<g id="starts" class="nd"><rect x="191" y="1533" width="86" height="103"/><path d="M239 1533V1636"/>
<text class="t" transform="translate(213.5 1584.5) rotate(-90)">&lt;&lt;Node&gt;&gt;</text><text class="t" transform="translate(233 1584.5) rotate(-90)">Starts</text>
<text class="a" transform="translate(252.5 1632) rotate(-90)">location:String</text><text class="a" transform="translate(271 1632) rotate(-90)">style:String</text></g>

<g id="starta-style" class="nd"><rect x="52" y="1596" width="86" height="182"/><path d="M99 1596V1778"/>
<text class="t" transform="translate(74 1687) rotate(-90)">&lt;&lt;NodeStyle&gt;&gt;</text><text class="t" transform="translate(93.5 1687) rotate(-90)">StartaStyle</text>
<text class="a" transform="translate(112.5 1774) rotate(-90)">CAPTION="Starts"</text><text class="dots" transform="translate(133 1772) rotate(-90)">....</text></g>

<g id="starta-key-delete" class="np"><rect x="337" y="1583" width="50" height="159"/><path d="M382 1583V1742"/>
<text class="t" transform="translate(358 1662.5) rotate(-90)">&lt;&lt;KeyDelete&gt;&gt;</text><text class="t" transform="translate(377.5 1662.5) rotate(-90)">StartaKeyDelete</text></g>

<g id="starta-popup-diagram" class="np"><rect x="414" y="1535" width="55" height="193"/><path d="M460 1535V1728"/>
<text class="t" transform="translate(435.5 1631.5) rotate(-90)">&lt;&lt;PopUpDiagram&gt;&gt;</text><text class="t" transform="translate(455 1631.5) rotate(-90)">StartaPopUpDiagram</text></g>

<g id="starta-delete" class="np"><rect x="514" y="1541" width="86" height="181"/><path d="M561 1541V1722"/>
<text class="t" transform="translate(536 1631.5) rotate(-90)">&lt;&lt;DeleteElement&gt;&gt;</text><text class="t" transform="translate(555.5 1631.5) rotate(-90)">StartaDelete</text>
<text class="a" transform="translate(574.5 1718) rotate(-90)">NAME="Dzēst"</text><text class="a" transform="translate(593 1718) rotate(-90)">NR=1</text></g>

<g id="aktivitates-style" class="nd"><rect x="606" y="1563" width="86" height="192"/><path d="M655 1563V1755"/>
<text class="t" transform="translate(629 1659) rotate(-90)">&lt;&lt;NodeStyle&gt;&gt;</text><text class="t" transform="translate(648.5 1659) rotate(-90)">AktivitātesStyle</text>
<text class="a" transform="translate(668.5 1751) rotate(-90)">CAPTION="Aktivitāte"</text><text class="dots" transform="translate(689 1749) rotate(-90)">....</text></g>
</svg>
